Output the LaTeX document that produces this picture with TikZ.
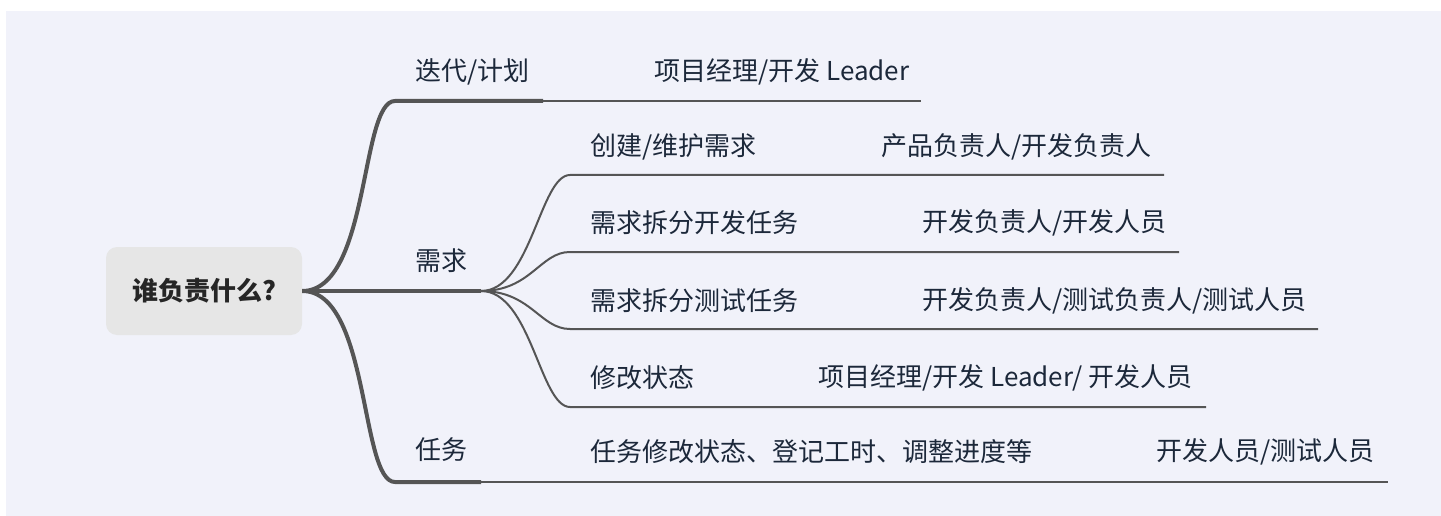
\documentclass[tikz,border=0pt]{standalone}
\usepackage{fontspec}
\newfontfamily\cjk{Noto Sans CJK SC}
\definecolor{bgcol}{HTML}{F1F2FA}
\definecolor{txtcol}{HTML}{1C283A}
\definecolor{linecol}{HTML}{555555}
\definecolor{rootcol}{HTML}{E6E6E6}
\begin{document}
\begin{tikzpicture}[x=1pt,y=-1pt,
  root/.style={fill=rootcol,rounded corners=11pt,minimum width=196pt,minimum height=88pt,
    font=\cjk\bfseries\fontsize{26}{30}\selectfont,text=black!85},
  topic/.style={anchor=west,inner sep=0pt,font=\cjk\fontsize{26}{30}\selectfont,text=txtcol},
  trunk/.style={draw=linecol,line width=4pt},
  twig/.style={draw=linecol,line width=2pt}]
\useasboundingbox (0,0) rectangle (1441,516);
\fill[bgcol] (6,11) rectangle (1441,516);

\node[root] (who) at (204,291) {谁负责什么?};

\node[topic] (plan) at (415,72)  {迭代/计划};
\node[topic] (req)  at (415,261) {需求};
\node[topic] (task) at (415,450) {任务};

\node[topic] (reqnew)   at (590,147) {创建/维护需求};
\node[topic] (reqdev)   at (590,223) {需求拆分开发任务};
\node[topic] (reqtest)  at (590,301) {需求拆分测试任务};
\node[topic] (reqstate) at (590,378) {修改状态};
\node[topic] (taskedit) at (590,452) {任务修改状态、登记工时、调整进度等};

\node[topic] (planwho)  at (654,72)  {项目经理/开发 Leader};
\node[topic] (newwho)   at (881,147) {产品负责人/开发负责人};
\node[topic] (devwho)   at (922,223) {开发负责人/开发人员};
\node[topic] (testwho)  at (922,301) {开发负责人/测试负责人/测试人员};
\node[topic] (statewho) at (818,378) {项目经理/开发 Leader/ 开发人员};
\node[topic] (taskwho)  at (1156,452) {开发人员/测试人员};

\coordinate (planA) at (395,101);
\coordinate (planB) at (543,101);
\coordinate (planC) at (921,101);
\coordinate (reqB)  at (481,291);
\coordinate (taskA) at (395,482);
\coordinate (taskB) at (481,482);
\coordinate (taskC) at (1388,482);
\coordinate (reqnewA)   at (570,175);
\coordinate (reqnewC)   at (1164,175);
\coordinate (reqdevA)   at (570,252);
\coordinate (reqdevC)   at (1179,252);
\coordinate (reqtestA)  at (570,329);
\coordinate (reqtestC)  at (1318,329);
\coordinate (reqstateA) at (570,407);
\coordinate (reqstateC) at (1206,407);

\draw[trunk] (who.east) .. controls (370,291) and (360,101) .. (planA) -- (planB);
\draw[twig] (planB) -- (planC);
\draw[trunk] (who.east) -- (reqB);
\draw[trunk] (who.east) .. controls (370,291) and (360,482) .. (taskA) -- (taskB);
\draw[twig] (taskB) -- (taskC);
\foreach \s in {reqnew,reqdev,reqtest,reqstate}
  \draw[twig] (reqB) .. controls +(50,0) and +(-30,0) .. (\s A) -- (\s C);
\end{tikzpicture}
\end{document}
